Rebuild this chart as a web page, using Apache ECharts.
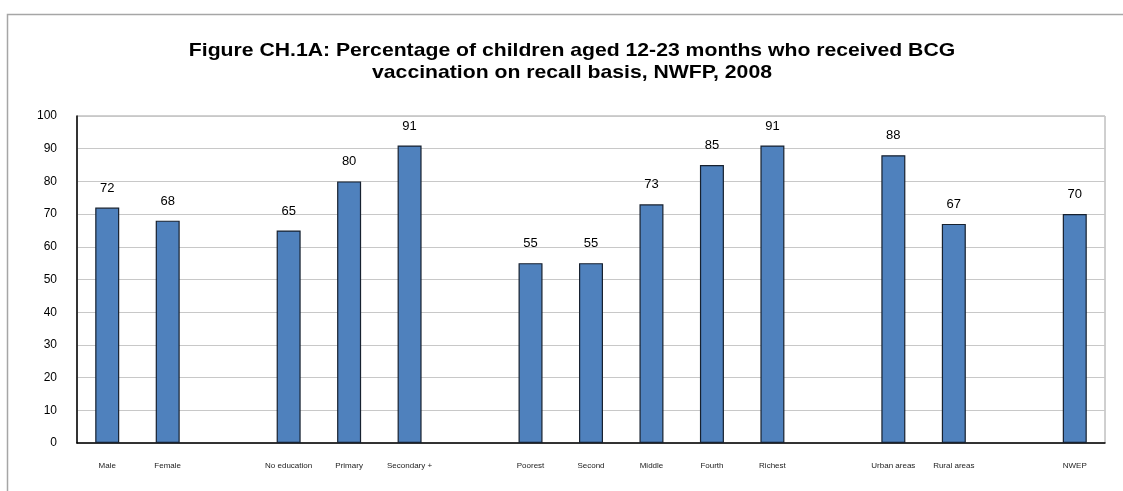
<!DOCTYPE html>
<html>
<head>
<meta charset="utf-8">
<script src="https://cdn.jsdelivr.net/npm/echarts@6/dist/echarts.min.js"></script>
<style>
  html, body { margin: 0; padding: 0; background: #fff; }
  #chart { width: 1123px; height: 491px; }
</style>
</head>
<body>
<div id="chart"></div>
<script>
// Groups are separated by empty slots on the category axis
const categories = [
  'Male', 'Female', '',
  'No education', 'Primary', 'Secondary +', '',
  'Poorest', 'Second', 'Middle', 'Fourth', 'Richest', '',
  'Urban areas', 'Rural areas', '',
  'NWEP'
];
const bcgPercent = [
  72, 68, '-',
  65, 80, 91, '-',
  55, 55, 73, 85, 91, '-',
  88, 67, '-',
  70
];
const yTicks = { min: 0, max: 100, interval: 10 };
const titleLines = [
  'Figure CH.1A: Percentage of children aged 12-23 months who received BCG',
  'vaccination on recall basis, NWFP, 2008'
];

const FONT = 'Liberation Sans, Arial, sans-serif';

// Title lines, centred above the plot
const titleGraphics = titleLines.map((line, i) => ({
  type: 'text',
  x: 572,
  y: 51 + i * 22,
  scaleX: 1.115,
  silent: true,
  style: {
    text: line,
    x: 0,
    y: 0,
    fontFamily: FONT,
    fontSize: 19,
    fontWeight: 'bold',
    fill: '#000',
    align: 'center',
    verticalAlign: 'middle'
  }
}));

const chart = echarts.init(document.getElementById('chart'));
chart.setOption({
  backgroundColor: '#ffffff',
  animation: false,
  graphic: [{
    type: 'rect',
    shape: { x: 7.5, y: 14.5, width: 1130, height: 520 },
    style: { fill: 'none', stroke: '#a6a6a6', lineWidth: 1.5 },
    silent: true
  }].concat(titleGraphics),
  grid: {
    left: 77, right: 18, top: 116, bottom: 48,
    show: true,
    borderColor: '#a0a0a0',
    borderWidth: 1
  },
  xAxis: {
    type: 'category',
    data: categories,
    axisLine: { show: true, lineStyle: { color: '#000', width: 1.5 } },
    axisTick: { show: false },
    axisLabel: {
      interval: 0,
      margin: 19,
      fontFamily: FONT,
      fontSize: 8,
      color: '#222'
    }
  },
  yAxis: {
    type: 'value',
    min: yTicks.min,
    max: yTicks.max,
    interval: yTicks.interval,
    axisLine: { show: true, lineStyle: { color: '#000', width: 1.5 } },
    axisTick: { show: false },
    axisLabel: {
      margin: 20,
      fontFamily: FONT,
      fontSize: 12,
      color: '#000'
    },
    splitLine: { lineStyle: { color: '#c8c8c8', width: 1 } }
  },
  series: [{
    type: 'bar',
    data: bcgPercent,
    barWidth: 24,
    itemStyle: {
      color: '#4f81bd',
      borderColor: '#17212f',
      borderWidth: 1.2
    },
    label: {
      show: true,
      position: 'top',
      distance: 13,
      fontFamily: FONT,
      fontSize: 13,
      color: '#000'
    }
  }]
});
</script>
</body>
</html>
